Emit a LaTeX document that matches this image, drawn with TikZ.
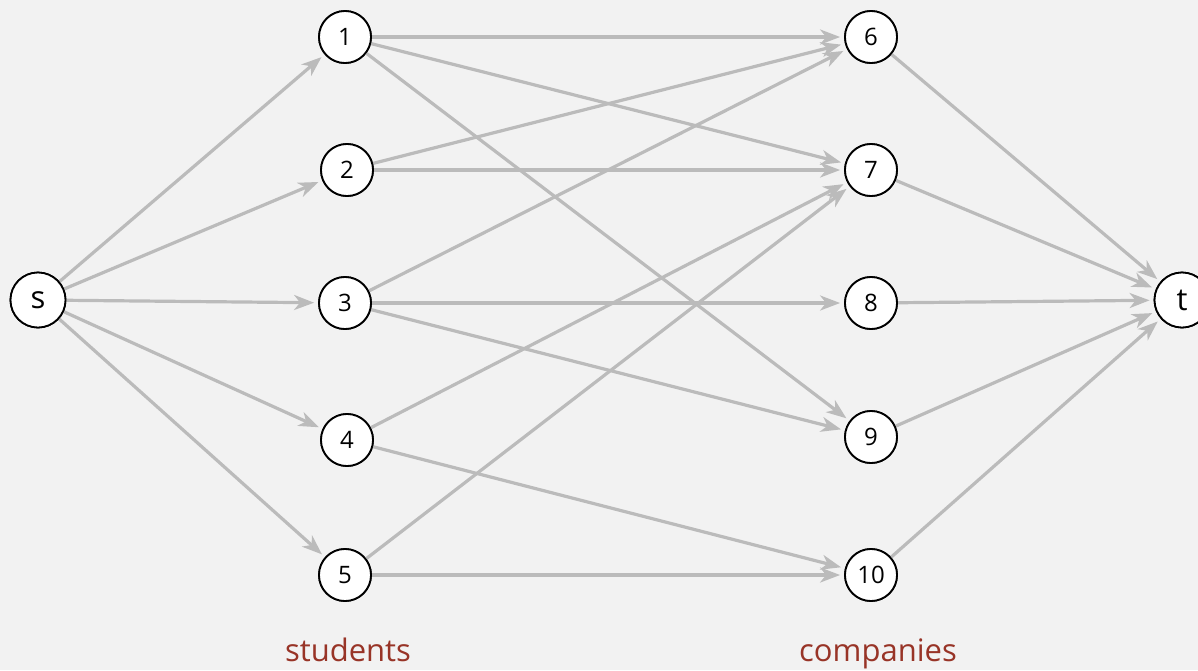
\documentclass[tikz,border=0pt]{standalone}
\usepackage{fontspec}
\setmainfont{Open Sans}
\usepackage{xcolor}
\usetikzlibrary{arrows.meta,positioning}
\definecolor{bgcol}{HTML}{F2F2F2}
\definecolor{edgecol}{HTML}{BBBBBB}
\definecolor{labelcol}{HTML}{983427}
\begin{document}
\begin{tikzpicture}[
    x=1pt, y=-1pt,
    vert/.style={draw, circle, fill=white, line width=1.8pt, minimum size=52pt, inner sep=0pt, font=\fontsize{24}{24}\selectfont},
    term/.style={vert, minimum size=55pt, font=\fontsize{31}{31}\selectfont},
    arr/.style={-{Stealth[length=20pt, width=15pt, inset=6pt]}, edgecol, line width=3.2pt, shorten >=4pt},
    caption/.style={text=labelcol, inner sep=0pt, anchor=base, font=\fontsize{31}{31}\selectfont}
  ]
    \fill[bgcol] (0,0) rectangle (1198,670);
    \useasboundingbox (0,0) rectangle (1198,670);

    \node[term] (s) at (38,300) {s};
    \node[term] (t) at (1182,300) {t};
    \node[vert] (n1) at (345,37) {1};
    \node[vert] (n2) at (347,170) {2};
    \node[vert] (n3) at (345,303) {3};
    \node[vert] (n4) at (347,440) {4};
    \node[vert] (n5) at (345,575) {5};
    \node[vert] (n6) at (871,37) {6};
    \node[vert] (n7) at (871,170) {7};
    \node[vert] (n8) at (871,303) {8};
    \node[vert] (n9) at (871,437) {9};
    \node[vert] (n10) at (871,575) {10};

    \node[caption] (stud) at (348,661) {students};
    \node[caption] (comp) at (878,661) {companies};

    \foreach \i in {1,...,5}
      \draw[arr] (s) -- (n\i);
    \foreach \i in {6,...,10}
      \draw[arr] (n\i) -- (t);
    \foreach \a/\b in {1/6, 1/7, 1/9, 2/6, 2/7, 3/6, 3/8, 3/9, 4/7, 4/10, 5/7, 5/10}
      \draw[arr] (n\a) -- (n\b);

    % nodes again on top of the edges
    \foreach \i in {1,...,10}
      \node[vert] at (n\i) {\i};
    \node[term] at (s) {s};
    \node[term] at (t) {t};
  \end{tikzpicture}
\end{document}
